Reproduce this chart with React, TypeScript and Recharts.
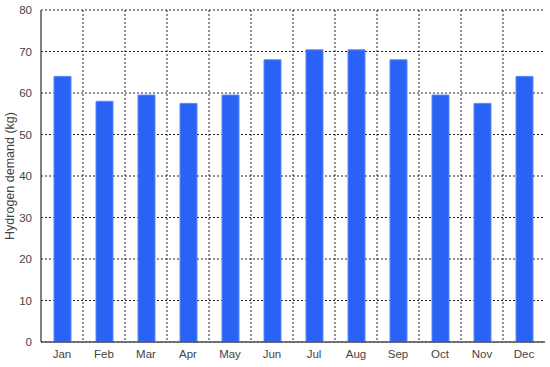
import { BarChart, Bar, XAxis, YAxis, CartesianGrid } from "recharts";

const months = ["Jan", "Feb", "Mar", "Apr", "May", "Jun", "Jul", "Aug", "Sep", "Oct", "Nov", "Dec"];
const demand = [64, 58, 59.5, 57.5, 59.5, 68, 70.4, 70.4, 68, 59.5, 57.5, 64];
const yTicks = [0, 10, 20, 30, 40, 50, 60, 70, 80];

const data = months.map((m, i) => ({ month: m, demand: demand[i] }));

const tickStyle = { fontSize: 11.5, fill: "#444", fontFamily: "Liberation Sans, Arial, sans-serif" };
const frame = { stroke: "#555", strokeWidth: 1.5 };

export default function App() {
  return (
    <div style={{ position: "absolute", left: 0, top: 0 }}>
      <BarChart
        width={550}
        height={367}
        data={data}
        margin={{ top: 10, right: 5, bottom: 0, left: 0 }}
        barSize={17}
      >
        <CartesianGrid
          stroke="#222"
          strokeDasharray="2 2"
          verticalCoordinatesGenerator={({ offset }: any) =>
            months.slice(1).map((_, i) => offset.left + (offset.width * (i + 1)) / months.length)
          }
        />
        <XAxis
          dataKey="month"
          height={25}
          tickLine={false}
          tickSize={0}
          tickMargin={8}
          axisLine={frame}
          tick={tickStyle}
        />
        <XAxis
          xAxisId="top"
          dataKey="month"
          orientation="top"
          height={0}
          tick={false}
          tickLine={false}
          axisLine={frame}
        />
        <YAxis
          width={41}
          domain={[0, 80]}
          ticks={yTicks}
          tickLine={false}
          tickSize={0}
          tickMargin={9}
          axisLine={frame}
          tick={tickStyle}
          label={{
            content: ({ viewBox }: any) => (
              <text
                x={viewBox.x + 10}
                y={viewBox.y + viewBox.height / 2}
                transform={`rotate(-90, ${viewBox.x + 10}, ${viewBox.y + viewBox.height / 2})`}
                textAnchor="middle"
                dominantBaseline="central"
                style={{ ...tickStyle, fontSize: 12.5 }}
              >
                Hydrogen demand (kg)
              </text>
            ),
          }}
        />
        <YAxis
          yAxisId="right"
          orientation="right"
          width={0}
          domain={[0, 80]}
          tick={false}
          tickLine={false}
          axisLine={frame}
        />
        <Bar dataKey="demand" fill="#2a62f6" stroke="#5a88f8" strokeWidth={1} isAnimationActive={false} />
      </BarChart>
    </div>
  );
}
